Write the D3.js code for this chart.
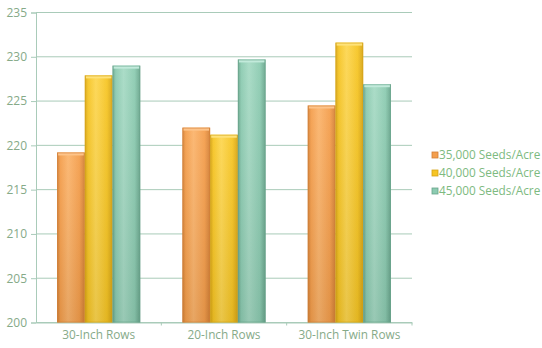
<!DOCTYPE html>
<html><head><meta charset="utf-8">
<script src="https://cdn.jsdelivr.net/npm/d3@7"></script>
<style>body{margin:0;background:#fff}svg{display:block}</style>
</head><body><svg id="c" width="542" height="348"></svg>
<script>
const categories = ["30-Inch Rows", "20-Inch Rows", "30-Inch Twin Rows"];
const seriesNames = ["35,000 Seeds/Acre", "40,000 Seeds/Acre", "45,000 Seeds/Acre"];
const s35 = [219.2, 222.0, 224.5];
const s40 = [227.9, 221.2, 231.6];
const s45 = [229.0, 229.7, 226.9];
const yTicks = [200, 205, 210, 215, 220, 225, 230, 235];

const seriesVals = [s35, s40, s45];
const palette = [
  {base:"#f49e4c", light:"#fbb46c", dark:"#d27f36", cap:"#fdc48a"},
  {base:"#f6c524", light:"#fdd650", dark:"#d6a416", cap:"#fee27a"},
  {base:"#8ccbb1", light:"#a6dac4", dark:"#68a48b", cap:"#c2eadb"}
];
const svg = d3.select("#c");
const L = 36, R = 412, T = 12.5, B = 322.5;
const x0 = d3.scaleBand().domain(categories).range([L, R]).paddingInner(0).paddingOuter(0);
const x1 = d3.scaleBand().domain(d3.range(3)).range([0, x0.bandwidth()]).paddingInner(0).paddingOuter(0.76);
const y = d3.scaleLinear().domain([200, 235]).range([B, T]);

const defs = svg.append("defs");
palette.forEach((p, i) => {
  const g = defs.append("linearGradient").attr("id", "g" + i).attr("x1", 0).attr("x2", 1).attr("y1", 0).attr("y2", 0);
  g.append("stop").attr("offset", "0%").attr("stop-color", p.dark);
  g.append("stop").attr("offset", "12%").attr("stop-color", p.base);
  g.append("stop").attr("offset", "40%").attr("stop-color", p.light);
  g.append("stop").attr("offset", "80%").attr("stop-color", p.base);
  g.append("stop").attr("offset", "100%").attr("stop-color", p.dark);
  const v = defs.append("linearGradient").attr("id", "v" + i).attr("x1", 0).attr("x2", 0).attr("y1", 0).attr("y2", 1);
  v.append("stop").attr("offset", "0%").attr("stop-color", "#fff").attr("stop-opacity", 0.06);
  v.append("stop").attr("offset", "100%").attr("stop-color", "#000").attr("stop-opacity", 0.08);
});

const gridColor = "#a9cbb9";
const textColor = "#86aa88";
svg.append("g").selectAll("line").data(yTicks).join("line")
  .attr("x1", L).attr("x2", R).attr("y1", d => y(d)).attr("y2", d => y(d))
  .attr("stroke", gridColor).attr("stroke-width", 1);

const yAxis = svg.append("g").attr("transform", `translate(${L},0)`)
  .call(d3.axisLeft(y).tickValues(yTicks).tickSize(5).tickPadding(4).tickFormat(d3.format("d")));
yAxis.select(".domain").attr("stroke", gridColor);
yAxis.selectAll(".tick line").attr("stroke", gridColor);
yAxis.selectAll("text").attr("fill", textColor).style("font-family", "'Open Sans', sans-serif").style("font-size", "12px");

const xAxis = svg.append("g").attr("transform", `translate(0,${B})`)
  .call(d3.axisBottom(x0).tickSize(0).tickPadding(8));
xAxis.select(".domain").attr("stroke", gridColor);
xAxis.selectAll("text").attr("fill", textColor).style("font-family", "'Open Sans', sans-serif").style("font-size", "11.8px");
svg.append("g").selectAll("line").data(categories.slice(1).concat(["end"])).join("line")
  .attr("x1", (d, i) => L + x0.bandwidth() * (i + 1)).attr("x2", (d, i) => L + x0.bandwidth() * (i + 1))
  .attr("y1", B).attr("y2", B + 3).attr("stroke", gridColor);

const groups = svg.append("g").selectAll("g").data(categories).join("g")
  .attr("transform", d => `translate(${x0(d)},0)`);
groups.each(function(cat, ci) {
  const g = d3.select(this);
  seriesVals.forEach((vals, si) => {
    const bx = x1(si), bw = x1.bandwidth(), by = y(vals[ci]), bh = B - y(vals[ci]);
    g.append("rect").attr("x", bx).attr("y", by).attr("width", bw).attr("height", bh)
      .attr("fill", `url(#g${si})`);
    g.append("rect").attr("x", bx).attr("y", by).attr("width", bw).attr("height", bh)
      .attr("fill", `url(#v${si})`);
    g.append("rect").attr("x", bx + 1).attr("y", by).attr("width", bw - 2).attr("height", 3)
      .attr("fill", palette[si].cap);
    g.append("rect").attr("x", bx + 0.5).attr("y", by + 0.5).attr("width", bw - 1).attr("height", bh - 1)
      .attr("fill", "none").attr("stroke", palette[si].dark).attr("stroke-opacity", 0.6);
  });
});

const leg = svg.append("g").selectAll("g").data(seriesNames).join("g")
  .attr("transform", (d, i) => `translate(432,${155 + i * 18})`);
leg.append("rect").attr("x", 0).attr("y", -3).attr("width", 6).attr("height", 6)
  .attr("fill", (d, i) => palette[i].base).attr("stroke", (d, i) => palette[i].dark).attr("stroke-width", 0.8);
leg.append("text").attr("x", 7).attr("y", 0).attr("dy", "0.35em")
  .attr("fill", "#7dba80").style("font-family", "'Open Sans', sans-serif").style("font-size", "11.8px")
  .text(d => d);
</script></body></html>
